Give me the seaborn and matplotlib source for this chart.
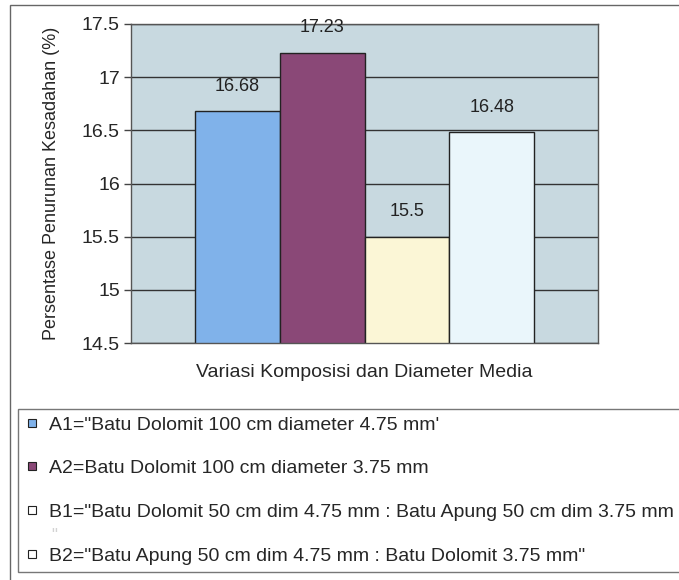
import matplotlib
matplotlib.use("Agg")
import matplotlib.pyplot as plt
import seaborn as sns
import pandas as pd
from matplotlib.patches import Rectangle
from matplotlib.lines import Line2D

codes = ["A1", "A2", "B1", "B2"]
values = [16.68, 17.23, 15.5, 16.48]
legend_labels = [
    "A1=\"Batu Dolomit 100 cm diameter 4.75 mm'",
    "A2=Batu Dolomit 100 cm diameter 3.75 mm",
    "B1=\"Batu Dolomit 50 cm dim 4.75 mm : Batu Apung 50 cm dim 3.75 mm",
    "B2=\"Batu Apung 50 cm dim 4.75 mm : Batu Dolomit 3.75 mm\"",
]
value_labels = ["16.68", "17.23", "15.5", "16.48"]
colors = ["#80b2ea", "#8a4877", "#fbf6d6", "#eaf6fb"]
legend_colors = ["#80b2ea", "#8a4877", "#ffffff", "#ffffff"]
yticks = [14.5, 15, 15.5, 16, 16.5, 17, 17.5]
ytick_labels = ["14.5", "15", "15.5", "16", "16.5", "17", "17.5"]

sns.set_style("white")
plt.rcParams['font.family'] = ['Liberation Sans', 'DejaVu Sans']

W, H = 679, 580
fig = plt.figure(figsize=(W / 100, H / 100), dpi=100)
ax = fig.add_axes([131 / W, 1 - 343 / H, (598 - 131) / W, (343 - 24) / H])

df = pd.DataFrame({"grp": ["g"] * 4, "kode": legend_labels, "nilai": values})
sns.barplot(data=df, x="grp", y="nilai", hue="kode", hue_order=legend_labels,
            palette=colors, width=0.726, edgecolor="#222222", linewidth=1.0,
            saturation=1, ax=ax, legend=False)

ax.set_facecolor("#c8d9e0")
ax.set_ylim(14.5, 17.5)
ax.set_xlim(-0.5, 0.5)
ax.set_yticks(yticks)
ax.set_yticklabels(ytick_labels, fontsize=14)
ax.set_xticks([])
ax.yaxis.grid(True, color="#333333", linewidth=1.0)
ax.set_axisbelow(True)
ax.tick_params(axis="y", length=5, width=1, color="#444444", pad=3, direction="out", left=True)
for s in ax.spines.values():
    s.set_color("#555555")
    s.set_linewidth(1.0)

ax.set_xlabel("Variasi Komposisi dan Diameter Media", fontsize=14, labelpad=15)
ax.set_ylabel("Persentase Penurunan Kesadahan (%)", fontsize=13, labelpad=16)

for patch, lab in zip(ax.patches, value_labels):
    x = patch.get_x() + patch.get_width() / 2
    ax.annotate(lab, (x, patch.get_y() + patch.get_height()), xytext=(0, 18),
                textcoords="offset points", ha="center", va="center", fontsize=13,
                color="#222222", annotation_clip=False)

handles = [Line2D([], [], linestyle="none", marker="s", markersize=5.5,
                  markerfacecolor=c, markeredgecolor="#222222", markeredgewidth=0.8)
           for c in legend_colors]
leg = fig.legend(handles, legend_labels, loc="upper left",
                 bbox_to_anchor=(18 / W, 1 - 409 / H), fontsize=14,
                 frameon=True, fancybox=False, edgecolor="#555555",
                 handlelength=0.75, handletextpad=0.5,
                 labelspacing=1.34, borderpad=0.36, borderaxespad=0)
leg.get_frame().set_linewidth(1.0)
fig.text(51 / W, 1 - 535 / H, "\"", fontsize=12, va="center", ha="left")

# outer chart frame
fig.add_artist(Rectangle((10 / W, -0.1), 1.2, 1 - 5 / H + 0.1, transform=fig.transFigure,
                         fill=False, edgecolor="#666666", linewidth=1.0))

fig.savefig("out.png", dpi=100, facecolor="white")
